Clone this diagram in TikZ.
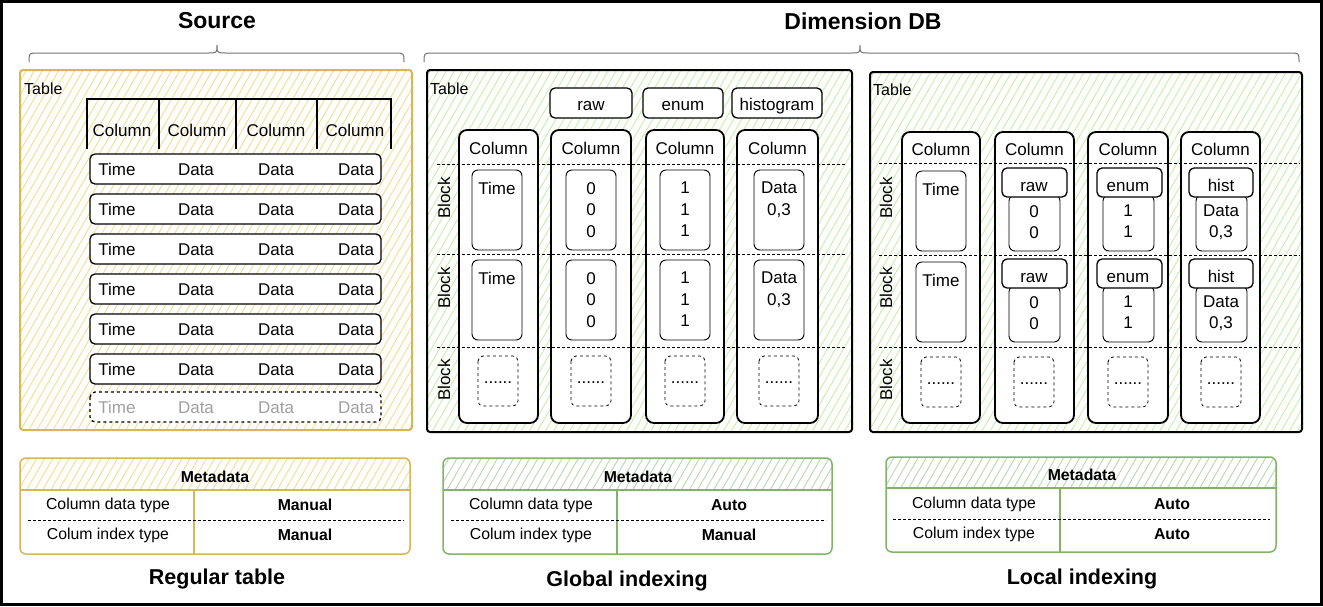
\documentclass[tikz,border=0pt]{standalone}
\usepackage{fontspec}
\setmainfont{Liberation Sans}
\usetikzlibrary{patterns.meta}
\definecolor{ystroke}{HTML}{D6B656}
\definecolor{yhatch}{HTML}{F3DE9A}
\definecolor{gstroke}{HTML}{82B366}
\definecolor{ghatch}{HTML}{CBEFB0}
\definecolor{mhatch}{HTML}{BFD8B8}
\definecolor{braceclr}{HTML}{707070}
\definecolor{fadedtxt}{HTML}{A0A0A0}
\tikzset{
  txt/.style={inner sep=0pt, font=\fontsize{17}{20}\selectfont, text height=12.2pt, text depth=0pt},
  multi/.style={inner sep=0pt, align=center, anchor=north, font=\fontsize{17}{21.5}\selectfont},
  small/.style={inner sep=0pt, font=\fontsize{15.8}{18}\selectfont},
  smallb/.style={inner sep=0pt, font=\fontsize{15.8}{18}\selectfont\bfseries},
  ttl/.style={inner sep=0pt, font=\fontsize{23}{27}\selectfont\bfseries},
  captxt/.style={inner sep=0pt, font=\fontsize{21.5}{25}\selectfont\bfseries},
  hatch/.style={pattern={Lines[angle=60,distance=7pt,line width=1pt]}, pattern color=#1},
  tblframe/.style={line width=2, rounded corners=3},
  colbox/.style={draw, line width=1.8, rounded corners=8, fill=white},
  cellbox/.style={draw, line width=0.9, rounded corners=6, fill=white},
  tagbox/.style={draw, line width=1.3, rounded corners=5, fill=white},
  dotbox/.style={draw, line width=0.8, dashed, rounded corners=5, fill=white},
  rowbox/.style={draw, line width=1.3, rounded corners=5, fill=white},
  blockline/.style={line width=0.8, dash pattern=on 3pt off 2pt}
}
\begin{document}
\begin{tikzpicture}[x=1pt,y=-1pt]
  \useasboundingbox (0,0) rectangle (1323,606);
  \draw[line width=3] (1.5,1.5) rectangle (1321.5,604.5);

  % titles and braces
  \node[ttl] (srcttl) at (217,21) {Source};
  \node[ttl] (dimttl) at (863,21) {Dimension DB};
  \draw[braceclr, line width=1] (29,62) .. controls (29,53) .. (38,53) -- (208,53)
    .. controls (217,53) .. (217,45) .. controls (217,53) .. (226,53) -- (395,53)
    .. controls (404,53) .. (404,62);
  \draw[braceclr, line width=1] (424,62) .. controls (424,53) .. (433,53) -- (851,53)
    .. controls (860,53) .. (860,45) .. controls (860,53) .. (869,53) -- (1290,53)
    .. controls (1299,53) .. (1299,62);

  % source table
  \draw[ystroke, tblframe, hatch=yhatch] (20,70) rectangle (412,430);
  \node[txt, anchor=west, font=\fontsize{16}{19}\selectfont] (srctbl) at (24,88) {Table};
  \draw[line width=1.2] (87,149) -- (87,99) -- (391,99) -- (391,149);
  \foreach \x in {159,236,317} \draw[line width=1.2] (\x,99) -- (\x,149);
  \foreach \x/\n in {122/a,197/b,276/c,355/d}
    \node[txt] (srccol\n) at (\x,130) {Column};
  \foreach \y/\n in {169/1,209/2,249/3,289/4,329/5,369/6} {
    \draw[rowbox] (90,\y-15) rectangle (381,\y+15);
    \node[txt] (srct\n) at (117,\y) {Time};
    \node[txt] (srcda\n) at (196,\y) {Data};
    \node[txt] (srcdb\n) at (276,\y) {Data};
    \node[txt] (srcdc\n) at (356,\y) {Data};
  }
  \draw[rowbox, dashed] (90,392) rectangle (381,422);
  \node[txt, fadedtxt] (srct7) at (117,407) {Time};
  \node[txt, fadedtxt] (srcda7) at (196,407) {Data};
  \node[txt, fadedtxt] (srcdb7) at (276,407) {Data};
  \node[txt, fadedtxt] (srcdc7) at (356,407) {Data};

  % global indexing table
  \draw[tblframe, hatch=ghatch] (427,70) rectangle (852,432);
  \node[txt, anchor=west, font=\fontsize{16}{19}\selectfont] (gtbl) at (430,88) {Table};
  \draw[tagbox] (550,88) rectangle (632,118);
  \node[txt] (graw) at (591,104) {raw};
  \draw[tagbox] (643,88) rectangle (723,118);
  \node[txt] (genum) at (683,104) {enum};
  \draw[tagbox] (732,88) rectangle (822,118);
  \node[txt] (ghist) at (777,104) {histogram};
  \foreach \xa/\xb/\n in {459/538/a,551/631/b,646/724/c,737/818/d} {
    \draw[colbox] (\xa,130) rectangle (\xb,423);
    \node[txt] (gcol\n) at ({(\xa+\xb)/2},148) {Column};
  }
  \foreach \y in {164,254,347} \draw[blockline] (437,\y) -- (846,\y);
  \foreach \y/\n in {198/1,288/2,380/3}
    \node[txt, rotate=90] (gblk\n) at (444,\y) {Block};
  \foreach \ya/\n in {170/1,260/2} {
    \draw[cellbox] (472,\ya) rectangle (522,\ya+80);
    \node[txt] (gtime\n) at (497,\ya+18) {Time};
    \draw[cellbox] (566,\ya) rectangle (616,\ya+80);
    \node[multi] (graw\n) at (591,\ya+12) {0\\0\\0};
    \draw[cellbox] (660,\ya) rectangle (710,\ya+80);
    \node[multi] (genum\n) at (685,\ya+12) {1\\1\\1};
    \draw[cellbox] (754,\ya) rectangle (804,\ya+80);
    \node[multi] (ghist\n) at (779,\ya+12) {Data\\0,3};
  }
  \foreach \x/\n in {498/a,591/b,685/c,779/d} {
    \draw[dotbox] (\x-20,356) rectangle (\x+20,406);
    \node[txt] (gdots\n) at (\x,377) {......};
  }

  % local indexing table
  \draw[tblframe, hatch=ghatch] (870,72) rectangle (1302,432);
  \node[txt, anchor=west, font=\fontsize{16}{19}\selectfont] (ltbl) at (873,89) {Table};
  \foreach \xa/\xb/\n in {902/980/a,995/1074/b,1088/1168/c,1181/1260/d} {
    \draw[colbox] (\xa,132) rectangle (\xb,423);
    \node[txt] (lcol\n) at ({(\xa+\xb)/2},149) {Column};
  }
  \foreach \y in {163,255,347} \draw[blockline] (879,\y) -- (1300,\y);
  \foreach \y/\n in {198/1,288/2,380/3}
    \node[txt, rotate=90] (lblk\n) at (886,\y) {Block};
  \foreach \ya/\n in {171/1,262/2} {
    \draw[cellbox] (916,\ya) rectangle (966,\ya+80);
    \node[txt] (ltime\n) at (941,\ya+18) {Time};
    \draw[cellbox] (1009,\ya+24) rectangle (1060,\ya+80);
    \node[multi, font=\fontsize{17}{21}\selectfont] (lrawv\n) at (1034,\ya+34) {0\\0};
    \draw[tagbox] (1002,\ya-3) rectangle (1067,\ya+26);
    \node[txt] (lraw\n) at (1034,\ya+14) {raw};
    \draw[cellbox] (1103,\ya+24) rectangle (1154,\ya+80);
    \node[multi, font=\fontsize{17}{21}\selectfont] (lenumv\n) at (1128,\ya+34) {1\\1};
    \draw[tagbox] (1097,\ya-3) rectangle (1162,\ya+26);
    \node[txt] (lenum\n) at (1128,\ya+14) {enum};
    \draw[cellbox] (1196,\ya+24) rectangle (1247,\ya+80);
    \node[multi, font=\fontsize{17}{21}\selectfont] (lhistv\n) at (1221,\ya+34) {Data\\0,3};
    \draw[tagbox] (1189,\ya-3) rectangle (1253,\ya+26);
    \node[txt] (lhist\n) at (1221,\ya+14) {hist};
  }
  \foreach \x/\n in {941/a,1034/b,1128/c,1221/d} {
    \draw[dotbox] (\x-20,357) rectangle (\x+20,407);
    \node[txt] (ldots\n) at (\x,378) {......};
  }

  % metadata: regular table
  \fill[hatch=yhatch] (20,490) [rounded corners=6] -- (20,458) -- (410,458) [sharp corners] -- (410,490) -- cycle;
  \draw[ystroke, line width=1.3] (20,490) -- (410,490) (194,490) -- (194,554);
  \draw[blockline] (28,520) -- (404,520);
  \draw[ystroke, line width=1.5, rounded corners=6] (20,458) rectangle (410,554);
  \node[smallb] (rmeta) at (215,477) {Metadata};
  \node[small] (rdt) at (108,505) {Column data type};
  \node[smallb] (rdtv) at (305,505) {Manual};
  \node[small] (rit) at (108,535) {Colum index type};
  \node[smallb] (ritv) at (305,535) {Manual};
  \node[captxt] (rcap) at (217,579) {Regular table};

  % metadata: global indexing
  \fill[hatch=mhatch] (443,490) [rounded corners=6] -- (443,458) -- (832,458) [sharp corners] -- (832,490) -- cycle;
  \draw[gstroke, line width=1.3] (443,490) -- (832,490) (617,490) -- (617,554);
  \draw[blockline] (451,520) -- (826,520);
  \draw[gstroke, line width=1.5, rounded corners=6] (443,458) rectangle (832,554);
  \node[smallb] (gmeta) at (638,477) {Metadata};
  \node[small] (gdt) at (531,505) {Column data type};
  \node[smallb] (gdtv) at (729,505) {Auto};
  \node[small] (git) at (531,535) {Colum index type};
  \node[smallb] (gitv) at (729,535) {Manual};
  \node[captxt] (gcap) at (627,581) {Global indexing};

  % metadata: local indexing
  \fill[hatch=mhatch] (886,488) [rounded corners=6] -- (886,457) -- (1276,457) [sharp corners] -- (1276,488) -- cycle;
  \draw[gstroke, line width=1.3] (886,488) -- (1276,488) (1060,488) -- (1060,552);
  \draw[blockline] (893,519) -- (1270,519);
  \draw[gstroke, line width=1.5, rounded corners=6] (886,457) rectangle (1276,552);
  \node[smallb] (lmeta) at (1082,475) {Metadata};
  \node[small] (ldt) at (974,504) {Column data type};
  \node[smallb] (ldtv) at (1172,504) {Auto};
  \node[small] (lit) at (974,534) {Colum index type};
  \node[smallb] (litv) at (1172,534) {Auto};
  \node[captxt] (lcap) at (1082,579) {Local indexing};
\end{tikzpicture}
\end{document}
